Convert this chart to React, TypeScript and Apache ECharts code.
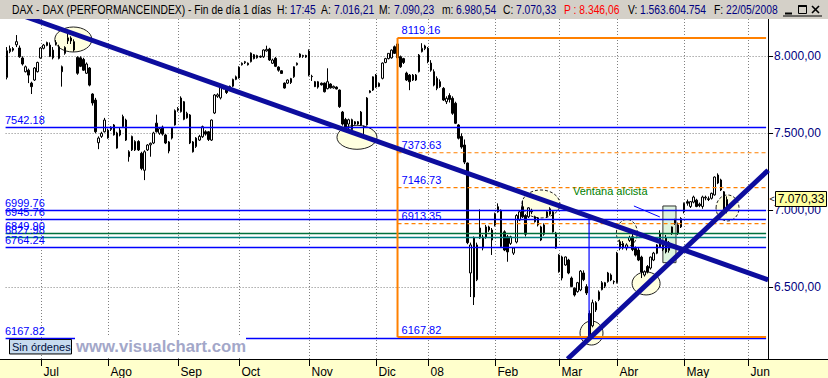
import React, { useEffect, useRef } from "react";
import * as echarts from "echarts";

// ---------- calendar (Xetra trading days) ----------
const FIRST_DAY = "2007-06-15";
const LAST_DAY = "2008-06-10";
const HOLIDAYS = ["2007-12-24", "2007-12-25", "2007-12-26", "2007-12-31", "2008-01-01", "2008-03-21", "2008-03-24", "2008-05-01"];
const MONTH_LABELS = ["Jul", "Ago", "Sep", "Oct", "Nov", "Dic", "08", "Feb", "Mar", "Abr", "May", "Jun"];

// ---------- daily OHLC, DAX, 15/06/2007 - 22/05/2008 ----------
const OPEN = [
  7863, 8030, 8050, 8075, 8054, 7989, 7900, 7910, 7826, 7846,
  7900, 7989, 8052, 8070, 8073, 8040, 8080, 8062, 7932, 8019,
  8100, 8119, 8095, 7993, 7990, 7980, 7890, 7924, 7755, 7716,
  7439, 7480, 7510, 7520, 7525, 7554, 7502, 7489, 7543, 7586,
  7380, 7392, 7392, 7447, 7370, 7260, 7392, 7425, 7437, 7566,
  7500, 7540, 7489, 7385, 7469, 7554, 7650, 7640, 7705, 7600,
  7619, 7444, 7414, 7456, 7478, 7510, 7510, 7456, 7632, 7740,
  7730, 7800, 7785, 7795, 7806, 7850, 7859, 7945, 7958, 7955,
  7965, 8010, 7990, 8000, 7997, 8035, 8047, 7955, 7987, 7930,
  7906, 7826, 7826, 7855, 7867, 7945, 7995, 8000, 8005, 8034,
  7870, 7835, 7800, 7825, 7826, 7790, 7820, 7795, 7800, 7781,
  7638, 7590, 7560, 7588, 7560, 7575, 7638, 7540, 7554, 7765,
  7781, 7878, 7805, 7857, 7960, 7985, 7990, 8062, 8080, 7997,
  7985, 7891, 7878, 7878, 7846, 7900, 8030, 8050, 8052, 7956,
  7900, 7857, 7835, 7792, 7705, 7745, 7727, 7695, 7554, 7480,
  7424, 7307, 6593, 6820, 6549, 6885, 6755, 6826, 6892, 6872,
  6904, 7023, 7000, 6860, 6828, 6785, 6722, 6794, 6937, 7023,
  6966, 6958, 7000, 6958, 6950, 6892, 6905, 6958, 6975, 6990,
  6852, 6709, 6697, 6645, 6677, 6560, 6494, 6472, 6483, 6593,
  6504, 6330, 6250, 6400, 6420, 6485, 6507, 6537, 6580, 6537,
  6530, 6753, 6785, 6755, 6805, 6828, 6753, 6742, 6696, 6580,
  6635, 6625, 6677, 6721, 6850, 6745, 6820, 6740, 6850, 6916,
  6905, 6892, 6990, 7056, 7025, 7053, 7066, 7040, 7025, 7080,
  7075, 7078, 7100, 7229, 7197, 7120, 7016.21,
];
const HIGH = [
  8060, 8070, 8060, 8138, 8070, 8000, 7940, 7920, 7835, 7930,
  7965, 8060, 8080, 8095, 8090, 8060, 8105, 8075, 7940, 8065,
  8151, 8130, 8110, 8000, 8000, 7990, 7960, 7930, 7760, 7730,
  7480, 7510, 7600, 7530, 7545, 7560, 7510, 7535, 7621, 7595,
  7390, 7485, 7455, 7455, 7380, 7390, 7430, 7440, 7510, 7621,
  7540, 7550, 7495, 7450, 7540, 7655, 7670, 7740, 7710, 7640,
  7625, 7450, 7475, 7490, 7550, 7520, 7515, 7590, 7755, 7760,
  7820, 7810, 7790, 7810, 7855, 7875, 7935, 7960, 7970, 7960,
  8025, 8015, 8010, 8005, 8045, 8069, 8055, 7985, 7995, 7935,
  7910, 7830, 7850, 7860, 7935, 7960, 8020, 8010, 8010, 8045,
  7880, 7840, 7840, 7830, 7830, 7922, 7825, 7810, 7805, 7785,
  7645, 7600, 7595, 7595, 7580, 7580, 7645, 7550, 7735, 7780,
  7870, 7885, 7830, 7960, 7990, 8020, 8045, 8070, 8119.16, 8005,
  7990, 7900, 7885, 7885, 7885, 8015, 8085, 8075, 8060, 7975,
  7915, 7870, 7850, 7800, 7740, 7760, 7740, 7705, 7560, 7500,
  7460, 7310, 6790, 6830, 6790, 7006, 6840, 6905, 6900, 6885,
  6985, 7045, 7005, 6870, 6840, 6835, 6760, 6975, 6995, 7064,
  6975, 7020, 7010, 6965, 6955, 6900, 6915, 6995, 7020, 7000,
  6860, 6715, 6705, 6700, 6685, 6570, 6500, 6535, 6612, 6610,
  6520, 6350, 6420, 6410, 6480, 6540, 6535, 6600, 6590, 6545,
  6730, 6810, 6800, 6785, 6835, 6872, 6765, 6760, 6705, 6610,
  6645, 6700, 6730, 6780, 6870, 6800, 6840, 6800, 6895, 6945,
  6920, 6955, 7050, 7070, 7060, 7095, 7075, 7050, 7095, 7095,
  7090, 7115, 7220, 7240, 7205, 7125, 7090.23,
];
const LOW = [
  7850, 8020, 8030, 8060, 7990, 7940, 7895, 7826, 7755, 7840,
  7895, 7985, 8045, 8065, 7995, 7980, 8070, 7980, 7803, 8010,
  8080, 8080, 8030, 7880, 7930, 7905, 7885, 7805, 7680, 7500,
  7397, 7470, 7505, 7465, 7515, 7485, 7400, 7480, 7540, 7450,
  7316, 7385, 7385, 7385, 7260, 7196, 7385, 7348, 7430, 7505,
  7490, 7485, 7430, 7370, 7460, 7550, 7640, 7635, 7585, 7595,
  7430, 7375, 7405, 7450, 7470, 7485, 7450, 7450, 7625, 7730,
  7720, 7785, 7755, 7785, 7800, 7845, 7855, 7940, 7950, 7940,
  7960, 7980, 7985, 7990, 7990, 8030, 7970, 7950, 7930, 7900,
  7885, 7790, 7820, 7820, 7860, 7940, 7990, 7990, 7990, 7870,
  7840, 7800, 7790, 7810, 7765, 7785, 7790, 7790, 7785, 7665,
  7550, 7520, 7510, 7520, 7555, 7555, 7550, 7480, 7550, 7760,
  7775, 7795, 7800, 7850, 7955, 7980, 7985, 8015, 7985, 7925,
  7950, 7840, 7780, 7840, 7840, 7895, 8025, 8040, 7955, 7900,
  7805, 7780, 7795, 7710, 7690, 7700, 7620, 7560, 7460, 7400,
  7300, 6780, 6437, 6385, 6540, 6815, 6740, 6815, 6860, 6710,
  6895, 6985, 6760, 6735, 6666, 6775, 6710, 6785, 6930, 6950,
  6830, 6950, 6975, 6920, 6895, 6800, 6835, 6950, 6965, 6855,
  6750, 6595, 6545, 6640, 6585, 6500, 6440, 6465, 6475, 6540,
  6450, 6167.82, 6240, 6340, 6410, 6480, 6495, 6530, 6540, 6520,
  6525, 6740, 6745, 6740, 6795, 6735, 6700, 6670, 6560, 6570,
  6590, 6615, 6670, 6715, 6755, 6735, 6720, 6725, 6840, 6905,
  6840, 6885, 6980, 7030, 7015, 7045, 7020, 7020, 7010, 7065,
  7060, 7070, 7095, 7170, 7125, 6995, 6980.54,
];
const CLOSE = [
  8036, 8050, 8040, 8095, 7997, 7950, 7932, 7878, 7803, 7924,
  7960, 8054, 8073, 8090, 8000, 7990, 8090, 7987, 7900, 8058,
  8120, 8100, 8041, 7890, 7935, 7910, 7950, 7813, 7697, 7510,
  7469, 7500, 7586, 7470, 7540, 7490, 7404, 7521, 7609, 7456,
  7348, 7480, 7447, 7392, 7272, 7380, 7424, 7435, 7502, 7510,
  7530, 7495, 7437, 7444, 7534, 7647, 7660, 7729, 7591, 7630,
  7437, 7380, 7469, 7480, 7543, 7495, 7460, 7586, 7749, 7750,
  7813, 7790, 7765, 7805, 7850, 7867, 7930, 7955, 7965, 7945,
  8021, 7985, 8005, 7995, 8041, 8045, 7976, 7976, 7935, 7910,
  7889, 7794, 7846, 7830, 7932, 7955, 8015, 8005, 7995, 7878,
  7868, 7803, 7835, 7815, 7770, 7835, 7795, 7805, 7788, 7673,
  7560, 7525, 7588, 7525, 7575, 7560, 7554, 7545, 7729, 7775,
  7867, 7800, 7825, 7956, 7985, 8019, 8040, 8019, 7990, 7932,
  7960, 7846, 7835, 7846, 7878, 8008, 8052, 8067, 7965, 7910,
  7813, 7792, 7803, 7716, 7727, 7720, 7630, 7565, 7468, 7411,
  7313, 6790, 6775, 6437, 6775, 6820, 6826, 6892, 6872, 6807,
  6979, 6990, 6765, 6742, 6730, 6828, 6755, 6966, 6990, 6958,
  6845, 7016, 6990, 6926, 6905, 6807, 6845, 6990, 7010, 6860,
  6755, 6601, 6560, 6697, 6593, 6505, 6450, 6530, 6605, 6550,
  6463, 6182, 6400, 6353, 6470, 6530, 6530, 6593, 6548, 6535,
  6722, 6796, 6755, 6775, 6823, 6745, 6709, 6677, 6599, 6601,
  6600, 6696, 6722, 6775, 6762, 6790, 6730, 6790, 6892, 6937,
  6850, 6947, 7046, 7046, 7056, 7086, 7025, 7030, 7086, 7085,
  7070, 7110, 7216, 7177, 7132, 7000, 7070.33,
];

// ---------- drawn studies ----------
const LEVEL_VALUES = [7542.18, 6999.76, 6945.76, 6849.9, 6827.98, 6764.24, 6167.82];
const LEVEL_COLORS = ["#0000FF", "#0000FF", "#0000FF", "#00703C", "#008080", "#0000FF", "#0000FF"];
const FIB_START = 128;
const FIB_HIGH = 8119.16;
const FIB_LOW = 6167.82;
const FIB_LEVELS = [7373.63, 7146.73, 6913.35];
const DOWN_TREND = [[52.31, 7932.5], [249.0, 6552]];
const UP_TREND = [[221.7, 6742], [249.0, 7251]];
const ELLIPSES = [
  { i: 21.7, p: 8109, rx: 18.5, ry: 12.5, dash: false },
  { i: 114.7, p: 7474, rx: 20, ry: 12, dash: false },
  { i: 175.0, p: 7041, rx: 19, ry: 14, dash: true },
  { i: 203.2, p: 6853, rx: 10.5, ry: 13.5, dash: true },
  { i: 191.6, p: 6203, rx: 11.5, ry: 12, dash: false },
  { i: 209.5, p: 6525, rx: 14, ry: 11.5, dash: false },
  { i: 236.2, p: 7015, rx: 11.5, ry: 13, dash: true },
];
const WINDOW_BOX = { i0: 215.0, i1: 219.3, p0: 7028, p1: 6660 };
const WINDOW_POINTER = [[205.5, 7028], [214.0, 6957]];
const WINDOW_TEXT = { i: 185.5, p: 7126, text: "Ventana alcista" };
const MARKER_VLINE = { i: 190.8, p0: 6970, p1: 6167.82 };
const PREV_CLOSE = "8.346,06";
const VOLUME = "1.563.604.754";
const HOUR = "17:45";

function tradingDays(): string[] {
  const out: string[] = [];
  const d = new Date(FIRST_DAY + "T00:00:00Z");
  const end = new Date(LAST_DAY + "T00:00:00Z").getTime();
  while (d.getTime() <= end) {
    const wd = d.getUTCDay();
    const s = d.toISOString().slice(0, 10);
    if (wd !== 0 && wd !== 6 && HOLIDAYS.indexOf(s) < 0) out.push(s);
    d.setUTCDate(d.getUTCDate() + 1);
  }
  return out;
}
const DATES = tradingDays();

function fmtEs(v: number, dec = 2): string {
  const s = v.toFixed(dec);
  const [ip, dp] = s.split(".");
  return ip.replace(/\B(?=(\d{3})+(?!\d))/g, ".") + (dp ? "," + dp : "");
}

const FONT = "'Liberation Sans', Arial, Helvetica, sans-serif";

function clipLine(a: number[], b: number[], L: number, R: number, T: number, B: number) {
  const dx = b[0] - a[0], dy = b[1] - a[1];
  let t0 = -1e6, t1 = 1e6;
  const p = [-dx, dx, -dy, dy];
  const q = [a[0] - L, R - a[0], a[1] - T, B - a[1]];
  for (let k = 0; k < 4; k++) {
    if (p[k] === 0) { if (q[k] < 0) return null; continue; }
    const r = q[k] / p[k];
    if (p[k] < 0) { if (r > t0) t0 = r; } else { if (r < t1) t1 = r; }
  }
  if (t0 > t1) return null;
  return { x1: a[0] + t0 * dx, y1: a[1] + t0 * dy, x2: a[0] + t1 * dx, y2: a[1] + t1 * dy };
}

function txt(x: number, y: number, text: string, fill: string, size: number, align = "left", z = 6, extra: any = {}) {
  return {
    type: "text", x, y, z, silent: true, ...extra,
    style: { text, fill, font: `${extra.bold ? "bold " : ""}${size}px ${FONT}`, textAlign: align, textVerticalAlign: "middle", align, verticalAlign: "middle" },
  };
}

function buildGraphics(chart: any) {
  const n = DATES.length;
  const x0 = chart.convertToPixel({ xAxisIndex: 0 }, 0) as number;
  const xN = chart.convertToPixel({ xAxisIndex: 0 }, n - 1) as number;
  const step = (xN - x0) / (n - 1);
  const X = (i: number) => x0 + i * step;
  const Y = (v: number) => chart.convertToPixel({ yAxisIndex: 0 }, v) as number;
  const L = X(-0.5), R = X(n - 0.5);
  const T = 19, B = 359;
  const els: any[] = [];
  const line = (x1: number, y1: number, x2: number, y2: number, stroke: string, lineWidth: number, z: number, lineDash?: number[]) =>
    els.push({ type: "line", z, silent: true, shape: { x1, y1, x2, y2 }, style: { stroke, lineWidth, lineDash } });

  const monthStarts: number[] = [];
  for (let i = 1; i < n; i++) if (DATES[i].slice(5, 7) !== DATES[i - 1].slice(5, 7)) monthStarts.push(i);

  // vertical dotted grid
  monthStarts.forEach((m) => line(Math.round(X(m)) + 0.5, T, Math.round(X(m)) + 0.5, B, "#808080", 1, 1, [1, 2]));

  // ellipses
  ELLIPSES.forEach((e) =>
    els.push({ type: "ellipse", z: 1, silent: true, shape: { cx: X(e.i), cy: Y(e.p), rx: e.rx, ry: e.ry },
      style: { fill: "#FFFFE0", stroke: "#202020", lineWidth: 1, lineDash: e.dash ? [3, 2] : null } })
  );
  // bullish window box
  els.push({ type: "rect", z: 1, silent: true,
    shape: { x: X(WINDOW_BOX.i0), y: Y(WINDOW_BOX.p0), width: X(WINDOW_BOX.i1) - X(WINDOW_BOX.i0), height: Y(WINDOW_BOX.p1) - Y(WINDOW_BOX.p0) },
    style: { fill: "#DDF3DD", stroke: "#303030", lineWidth: 1 } });

  // horizontal levels
  LEVEL_VALUES.forEach((v, k) => {
    const y = Math.round(Y(v)) + 0.5;
    line(L, y, R - 2, y, LEVEL_COLORS[k], 1.5, 3);
  });
  // fibonacci
  const fx = X(FIB_START);
  const yH = Y(FIB_HIGH), yL = Y(FIB_LOW);
  line(fx, yH, R - 2, yH, "#FF8000", 2, 3);
  line(fx, yL - 1.5, R - 2, yL - 1.5, "#FF8000", 2, 3);
  line(fx, yH, fx, yL - 1.5, "#FF8000", 2, 3);
  FIB_LEVELS.forEach((v) => line(fx, Y(v), R - 2, Y(v), "#FF8000", 1.2, 3, [4, 3]));

  // thin marker lines
  line(X(MARKER_VLINE.i), Y(MARKER_VLINE.p0), X(MARKER_VLINE.i), Y(MARKER_VLINE.p1), "#0000FF", 1.2, 3);
  line(X(WINDOW_POINTER[0][0]), Y(WINDOW_POINTER[0][1]), X(WINDOW_POINTER[1][0]), Y(WINDOW_POINTER[1][1]), "#0000FF", 1, 3);

  // trend lines
  [DOWN_TREND, UP_TREND].forEach((tl) => {
    const c = clipLine([X(tl[0][0]), Y(tl[0][1])], [X(tl[1][0]), Y(tl[1][1])], L, R, 12, B);
    if (c) els.push({ type: "line", z: 4, silent: true, shape: c, style: { stroke: "#0D0D9E", lineWidth: 5 } });
  });

  // labels of levels (left) and fib (at start of retracement)
  LEVEL_VALUES.forEach((v) => els.push(txt(5, Y(v) - 7, v.toFixed(2), "#0000FF", 11, "left", 5)));
  [FIB_HIGH, ...FIB_LEVELS, FIB_LOW].forEach((v) => els.push(txt(fx + 4, Y(v) - 8, v.toFixed(2), "#0000FF", 11, "left", 5)));
  els.push(txt(X(WINDOW_TEXT.i), Y(WINDOW_TEXT.p), WINDOW_TEXT.text, "#008000", 11, "left", 5));

  // watermark area
  const yW = Y(FIB_LOW);
  els.push({ type: "rect", z: 5, silent: true, shape: { x: 75, y: yW - 1.5, width: 171, height: 19 }, style: { fill: "#FFFFFF" } });
  els.push(txt(76, yW + 8, "www.visualchart.com", "#A3A7C9", 16.7, "left", 6, { bold: true }));
  els.push({ type: "rect", z: 6, silent: true, shape: { x: 9.5, y: yW + 1, width: 62, height: 14.5 }, style: { fill: "#C7DBEF", stroke: "#000000", lineWidth: 1 } });
  els.push(txt(12, yW + 8.5, "Sin órdenes", "#001040", 11, "left", 7));

  // bottom time band
  els.push({ type: "rect", z: 10, silent: true, shape: { x: 0, y: B, width: 828, height: 378 - B }, style: { fill: "#FFFFCC" } });
  line(0, B + 0.5, 828, B + 0.5, "#000000", 1, 11);
  monthStarts.forEach((m, k) => {
    const x = Math.round(X(m)) + 0.5;
    line(x, B, x, B + 7, "#000000", 1, 11);
    els.push(txt(x + 2, B + 12.5, MONTH_LABELS[k] || "", "#000000", 12, "left", 11));
  });

  // header bar
  els.push({ type: "rect", z: 10, silent: true, shape: { x: 0, y: 0, width: 828, height: 19 }, style: { fill: "#D4D0C8" } });
  const last = OPEN.length - 1;
  const d = DATES[last];
  const dateStr = `${d.slice(8, 10)}/${d.slice(5, 7)}/${d.slice(0, 4)}`;
  const hs = { scaleX: 0.86 };
  els.push(txt(12, 9.5, "DAX - DAX (PERFORMANCEINDEX) - Fin de día 1 días", "#000000", 12, "left", 11, hs));
  const pairs: [number, string, number, string][] = [
    [277, "H:", 13, HOUR],
    [321, "A:", 13, fmtEs(OPEN[last])],
    [379, "M:", 15, fmtEs(HIGH[last])],
    [442, "m:", 14, fmtEs(LOW[last])],
    [503, "C:", 13, fmtEs(CLOSE[last])],
    [628, "V:", 12, VOLUME],
    [714, "F:", 12, dateStr],
  ];
  pairs.forEach(([x, k, off, v]) => {
    els.push(txt(x, 9.5, k, "#000000", 12, "left", 11, hs));
    els.push(txt(x + off, 9.5, v, "#000080", 12, "left", 11, hs));
  });
  els.push(txt(564, 9.5, "P : " + PREV_CLOSE, "#FF0000", 12, "left", 11, hs));
  // window buttons
  line(785, 13.5, 792, 13.5, "#000000", 2, 11);
  els.push({ type: "rect", z: 11, silent: true, shape: { x: 798.5, y: 5.5, width: 8, height: 8 }, style: { fill: "none", stroke: "#000", lineWidth: 1 } });
  line(798.5, 6, 806.5, 6, "#000000", 2, 11);
  line(812, 6, 819, 13, "#000000", 1.6, 11);
  line(819, 6, 812, 13, "#000000", 1.6, 11);
  line(783, 16, 822, 16, "#000000", 1, 11);

  // current price tag
  const yc = Y(CLOSE[last]);
  els.push({ type: "rect", z: 12, silent: true, shape: { x: 775.5, y: Math.round(yc - 8) + 0.5, width: 51, height: 15 }, style: { fill: "#FFFFA0", stroke: "#000000", lineWidth: 1 } });
  els.push(txt(801, yc, fmtEs(CLOSE[last]), "#000000", 12, "center", 13));
  els.push(txt(772, yc, "<", "#000000", 9, "center", 13));
  return els;
}

export default function App() {
  const ref = useRef<HTMLDivElement>(null);
  useEffect(() => {
    const chart = echarts.init(ref.current!, null, { renderer: "svg" });
    chart.setOption({
      animation: false,
      backgroundColor: "#FFFFFF",
      grid: { left: 5.6, right: 59.9, top: 17.8, bottom: 13.7 },
      xAxis: {
        type: "category", data: DATES, boundaryGap: true,
        axisLine: { show: false }, axisTick: { show: false }, axisLabel: { show: false }, splitLine: { show: false },
      },
      yAxis: {
        type: "value", position: "right", min: 6000, max: 8250, interval: 500, scale: false,
        axisLine: { show: true, lineStyle: { color: "#000000", width: 1 } },
        axisTick: { show: true, length: 5, lineStyle: { color: "#000000" } },
        axisLabel: {
          color: "#000080", fontSize: 12, fontFamily: FONT, margin: 6,
          formatter: (v: number) => (v % 500 === 0 && v > 6000 ? fmtEs(v) : ""),
        },
        splitLine: { show: true, lineStyle: { color: "#808080", width: 1, type: [1, 2] } },
      },
      series: [
        {
          type: "candlestick",
          data: OPEN.map((o, i) => [o, CLOSE[i], LOW[i], HIGH[i]]),
          barWidth: 2,
          z: 2,
          itemStyle: { color: "#FFFFFF", color0: "#000000", borderColor: "#000000", borderColor0: "#000000", borderWidth: 1 },
        },
      ],
    });
    chart.setOption({ graphic: { elements: buildGraphics(chart) } });
    return () => chart.dispose();
  }, []);
  return <div ref={ref} style={{ position: "fixed", left: 0, top: 0, width: 828, height: 378 }} />;
}
